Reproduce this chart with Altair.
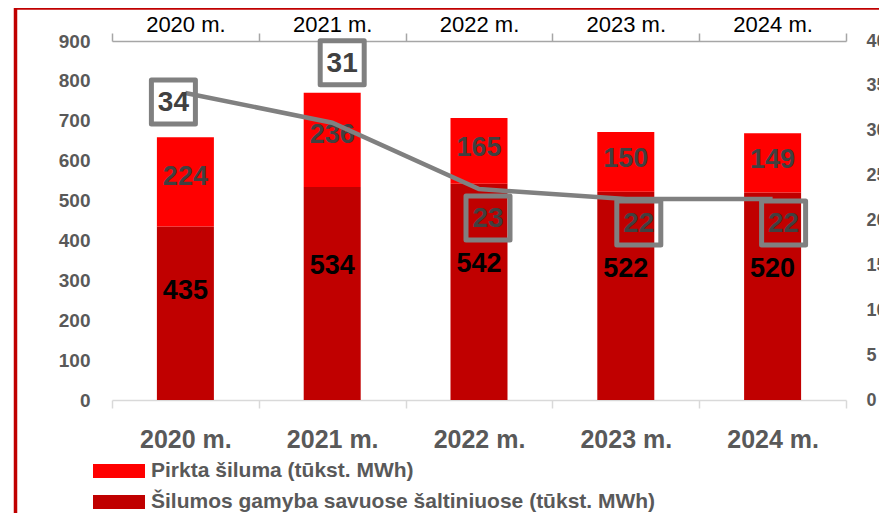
import altair as alt
import pandas as pd

# ---- data ----
years = ["2020 m.", "2021 m.", "2022 m.", "2023 m.", "2024 m."]
own = [435, 534, 542, 522, 520]          # Šilumos gamyba savuose šaltiniuose
bought = [224, 236, 165, 150, 149]       # Pirkta šiluma
share = [34.2, 30.9, 23.5, 22.4, 22.4]   # line, right axis
share_labels = ["34", "31", "23", "22", "22"]

# label-box offsets (px) relative to the line points (style only)
box_dx = [-12, 10, 9, 13, 11]
box_dy = [9, -60, 29, 24, 24]

S_OWN = "Šilumos gamyba savuose šaltiniuose (tūkst. MWh)"
S_BUY = "Pirkta šiluma (tūkst. MWh)"

SANS = "Liberation Sans, Arial, sans-serif"

rows = []
for y, o, b in zip(years, own, bought):
    rows.append({"year": y, "series": S_OWN, "value": o, "ord": 0})
    rows.append({"year": y, "series": S_BUY, "value": b, "ord": 1})
bars_df = pd.DataFrame(rows)
wide = pd.DataFrame({"year": years, "own": own, "bought": bought,
                     "share": share, "lab": share_labels})

xscale = alt.Scale(domain=years, paddingInner=0, paddingOuter=0)
yscale = alt.Scale(domain=[0, 900], nice=False)
y2scale = alt.Scale(domain=[0, 40], nice=False)

bottom_axis = alt.Axis(orient="bottom", tickBand="extent", domainColor="#D9D9D9",
                       tickColor="#D9D9D9", tickSize=8, domainWidth=1.5, tickWidth=1.5,
                       labelFont=SANS, labelFontSize=25, labelFontWeight="bold",
                       labelColor="#595959", labelPadding=19, labelAngle=0,
                       grid=False, title=None)
top_axis = alt.Axis(orient="top", tickBand="extent", domainColor="#A6A6A6",
                    tickColor="#A6A6A6", tickSize=8, domainWidth=1.5, tickWidth=1.5,
                    labelFont=SANS, labelFontSize=22, labelFontWeight="normal",
                    labelColor="#000000", labelPadding=-3, labelAngle=0,
                    grid=False, title=None)
left_axis = alt.Axis(orient="left", values=list(range(0, 901, 100)), domain=False,
                     ticks=False, grid=False, labelFont=SANS, labelFontSize=19,
                     labelFontWeight="bold", labelColor="#595959", labelPadding=22,
                     title=None)
right_axis = alt.Axis(orient="right", values=list(range(0, 41, 5)), domain=False,
                      ticks=False, grid=False, labelFont=SANS, labelFontSize=18,
                      labelFontWeight="bold", labelColor="#595959", labelPadding=20,
                      title=None)

bars = alt.Chart(bars_df).mark_bar(size=57).encode(
    x=alt.X("year:N", sort=years, scale=xscale, axis=bottom_axis),
    y=alt.Y("value:Q", stack="zero", scale=yscale, axis=left_axis),
    color=alt.Color("series:N",
                    scale=alt.Scale(domain=[S_BUY, S_OWN], range=["#FF0000", "#C00000"]),
                    legend=alt.Legend(orient="none", legendX=-6, legendY=417,
                                      direction="vertical", title=None,
                                      symbolType="M-2,-0.54L2,-0.54L2,0.54L-2,0.54Z",
                                      symbolSize=676, symbolStrokeWidth=0,
                                      labelFont=SANS, labelFontSize=21,
                                      labelFontWeight="bold", labelColor="#595959",
                                      labelOffset=19, rowPadding=8, labelLimit=800)),
    order=alt.Order("ord:Q", sort="ascending"),
)

top_lab = alt.Chart(wide).transform_calculate(
    pos="datum.own + datum.bought * 0.55"
).mark_text(font=SANS, fontSize=27, fontWeight="bold", color="#404040",
            baseline="middle", align="center").encode(
    x=alt.X("year:N", sort=years, scale=xscale, axis=None),
    y=alt.Y("pos:Q", scale=yscale, axis=None),
    text=alt.Text("bought:Q"),
)

bot_lab = alt.Chart(wide).transform_calculate(
    pos="datum.own * 0.63"
).mark_text(font=SANS, fontSize=27, fontWeight="bold", color="#000000",
            baseline="middle", align="center").encode(
    x=alt.X("year:N", sort=years, scale=xscale, axis=None),
    y=alt.Y("pos:Q", scale=yscale, axis=None),
    text=alt.Text("own:Q"),
)

line = alt.Chart(wide).mark_line(color="#808080", strokeWidth=4.5).encode(
    x=alt.X("year:N", sort=years, scale=xscale, axis=top_axis),
    y=alt.Y("share:Q", scale=y2scale, axis=right_axis),
)

layers = [bars, top_lab, bot_lab, line]
for i in range(len(years)):
    sub = wide.iloc[[i]]
    box = alt.Chart(sub).mark_point(shape="square", size=1936, filled=False,
                                    color="#808080", strokeWidth=5, opacity=1,
                                    strokeJoin="round",
                                    xOffset=box_dx[i], yOffset=box_dy[i]).encode(
        x=alt.X("year:N", sort=years, scale=xscale, axis=None),
        y=alt.Y("share:Q", scale=y2scale, axis=None),
    )
    txt = alt.Chart(sub).mark_text(font=SANS, fontSize=28, fontWeight="bold",
                                   color="#404040", baseline="middle", align="center",
                                   xOffset=box_dx[i], yOffset=box_dy[i] + 1).encode(
        x=alt.X("year:N", sort=years, scale=xscale, axis=None),
        y=alt.Y("share:Q", scale=y2scale, axis=None),
        text=alt.Text("lab:N"),
    )
    layers += [box, txt]

# decorative red frame of the original slide
one = pd.DataFrame({"a": [0]})
frame_left = alt.Chart(one).mark_rule(color="#C00000", strokeWidth=3.5).encode(
    x=alt.value(-96.5), y=alt.value(-40), y2=alt.value(500))
frame_top = alt.Chart(one).mark_rule(color="#C00000", strokeWidth=3.5).encode(
    x=alt.value(-98), x2=alt.value(800), y=alt.value(-33))
layers += [frame_left, frame_top]

chart = alt.layer(*layers).resolve_scale(
    y="independent"
).resolve_axis(
    x="independent", y="independent"
).properties(
    width=734, height=359,
    padding={"left": 104, "top": 33, "right": 33, "bottom": 113},
    autosize=alt.AutoSizeParams(type="none"),
).configure_view(stroke=None)

chart.save("out.html", embed_options={"renderer": "svg", "actions": False})
